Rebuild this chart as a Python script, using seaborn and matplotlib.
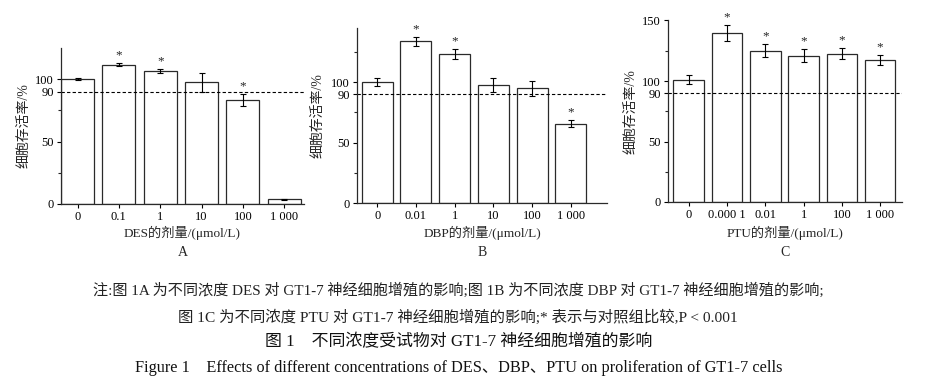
# Cell viability bar charts (DES / DBP / PTU), three panels with caption
import numpy as np
import pandas as pd
import matplotlib
matplotlib.use('Agg')
import matplotlib.pyplot as plt
from matplotlib.ticker import FixedLocator
import seaborn as sns

# Data
des_doses = ['0', '0.1', '1', '10', '100', '1 000']
des_mean = [100.0, 111.7, 106.4, 97.4, 83.3, 3.7]
des_err = [1.0, 1.3, 1.7, 7.4, 4.7, 0.5]
des_sig = [False, True, True, False, True, False]

dbp_doses = ['0', '0.01', '1', '10', '100', '1 000']
dbp_mean = [100.0, 134.1, 123.4, 97.5, 95.0, 65.8]
dbp_err = [3.4, 3.7, 4.3, 5.9, 6.5, 3.0]
dbp_sig = [False, True, True, False, False, True]

ptu_doses = ['0', '0.000 1', '0.01', '1', '100', '1 000']
ptu_mean = [101.2, 139.3, 125.0, 121.0, 122.5, 117.4]
ptu_err = [3.6, 6.6, 5.4, 5.5, 4.5, 4.0]
ptu_sig = [False, True, True, True, True, True]

sns.set_style('ticks')
plt.rcParams['font.family'] = ['Liberation Serif', 'Noto Sans CJK SC']
plt.rcParams['axes.unicode_minus'] = False

fig = plt.figure(figsize=(9.35, 3.91), dpi=100)

W, H = 935.0, 391.0
# panel boxes in pixels: left, right, top, bottom
panels = [
    dict(box=(61, 304, 48, 204), doses=des_doses, mean=des_mean, err=des_err, sig=des_sig,
         ylim=(0, 125), yt=[0, 50, 90, 100], ym=[25, 75], xlim=(-0.4, 5.48),
         xlabel='DES的剂量/(μmol/L)', letter='A', ylab_x=24),
    dict(box=(357, 607, 28, 203), doses=dbp_doses, mean=dbp_mean, err=dbp_err, sig=dbp_sig,
         ylim=(0, 145), yt=[0, 50, 90, 100], ym=[25, 75, 125], xlim=(-0.52, 5.93),
         xlabel='DBP的剂量/(μmol/L)', letter='B', ylab_x=318),
    dict(box=(668, 902, 20.5, 202), doses=ptu_doses, mean=ptu_mean, err=ptu_err, sig=ptu_sig,
         ylim=(0, 150), yt=[0, 50, 90, 100, 150], ym=[25, 75, 125], xlim=(-0.54, 5.57),
         xlabel='PTU的剂量/(μmol/L)', letter='C', ylab_x=631),
]

for p in panels:
    l, r, t, b = p['box']
    ax = fig.add_axes([l / W, 1 - b / H, (r - l) / W, (b - t) / H])
    df = pd.DataFrame({'dose': p['doses'], 'rate': p['mean']})
    sns.barplot(data=df, x='dose', y='rate', order=p['doses'], color='white',
                saturation=1, edgecolor='#2a2a2a', linewidth=0.9, width=0.8,
                errorbar=None, ax=ax)
    xs = np.arange(len(p['doses']))
    ax.errorbar(xs, p['mean'], yerr=p['err'], fmt='none', ecolor='black',
                elinewidth=0.8, capsize=2, capthick=0.8)
    for x, m, e, s in zip(xs, p['mean'], p['err'], p['sig']):
        if s:
            ax.text(x, m + e + 1.5, '*', ha='center', va='bottom', fontsize=9.5)
    ax.axhline(90, ls=(0, (3, 2)), color='black', lw=0.8)
    ax.set_ylim(*p['ylim'])
    ax.set_xlim(*p['xlim'])
    ax.set_yticks(p['yt'])
    ax.yaxis.set_minor_locator(FixedLocator(p['ym']))
    ax.set_xlabel('')
    ax.set_ylabel('')
    ax.tick_params(axis='both', which='major', labelsize=9, length=3, width=0.8,
                   pad=2, colors='black')
    ax.tick_params(axis='y', which='minor', length=2, width=0.8)
    for side in ['top', 'right']:
        ax.spines[side].set_visible(False)
    for side in ['left', 'bottom']:
        ax.spines[side].set_linewidth(0.9)
        ax.spines[side].set_color('#2a2a2a')
    cx = (l + r) / 2 / W
    fig.text(cx, 1 - 233 / H, p['xlabel'], ha='center', va='center', fontsize=9.5)
    fig.text(cx, 1 - 252 / H, p['letter'], ha='center', va='center', fontsize=10)
    fig.text(p['ylab_x'] / W, 1 - (b + t) / 2 / H, '细胞存活率/%', rotation=90,
             ha='center', va='center', fontsize=10)

# caption
fig.text(458 / W, 1 - 290 / H,
         '注:图 1A 为不同浓度 DES 对 GT1-7 神经细胞增殖的影响;图 1B 为不同浓度 DBP 对 GT1-7 神经细胞增殖的影响;',
         ha='center', va='center', fontsize=10.9, color='#222222')
fig.text(458 / W, 1 - 317 / H,
         '图 1C 为不同浓度 PTU 对 GT1-7 神经细胞增殖的影响;* 表示与对照组比较,P < 0.001',
         ha='center', va='center', fontsize=11.1, color='#222222')
fig.text(459 / W, 1 - 342 / H, '图 1    不同浓度受试物对 GT1-7 神经细胞增殖的影响',
         ha='center', va='center', fontsize=12.2, color='#111111')
fig.text(459 / W, 1 - 368 / H,
         'Figure 1    Effects of different concentrations of DES、DBP、PTU on proliferation of GT1-7 cells',
         ha='center', va='center', fontsize=11.7, color='#111111')

fig.savefig('out.png', dpi=100)
